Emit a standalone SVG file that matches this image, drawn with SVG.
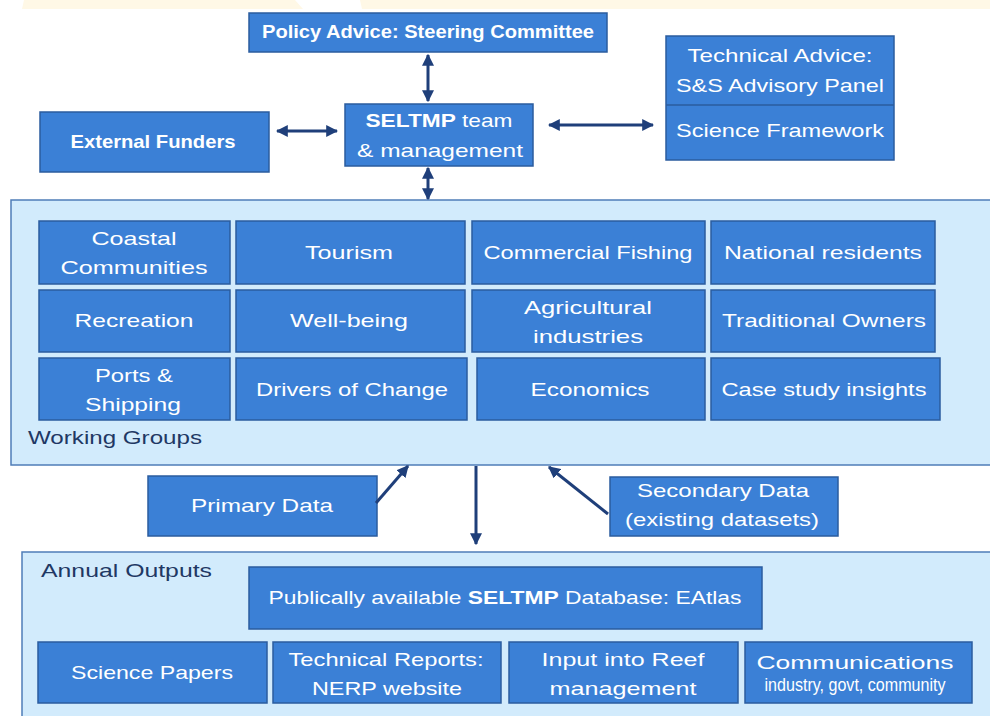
<svg xmlns="http://www.w3.org/2000/svg" width="990" height="716" viewBox="0 0 990 716">
  <style>
    .box { fill: #3b80d6; stroke: #2b5c9e; stroke-width: 1.5; }
    .panel { fill: #d2ebfc; stroke: #4f7db8; stroke-width: 1.5; }
    .t { font-family: "Liberation Sans", Arial, sans-serif; fill: #ffffff; text-anchor: middle; font-size: 19px; }
    .b { font-weight: bold; }
    .lbl { font-family: "Liberation Sans", Arial, sans-serif; fill: #1f3864; font-size: 19px; }
    .arr { stroke: #1f3f7a; stroke-width: 3; fill: none; }
    .band { fill: #fff8e6; }
  </style>
  <defs>
    <marker id="head" viewBox="0 0 10 10" refX="9" refY="5" markerWidth="4" markerHeight="4" orient="auto-start-reverse" markerUnits="strokeWidth">
      <path d="M0,0 L10,5 L0,10 z" fill="#1f3f7a"/>
    </marker>
  </defs>

  <rect width="990" height="716" fill="#ffffff"/>

  <!-- pale header band -->
  <path class="band" d="M24,0 L295,0 L303,9 L22,9 z"/>
  <path class="band" d="M360,0 L990,0 L990,9 L362,9 z"/>

  <!-- panels -->
  <g id="working-groups">
    <rect class="panel" x="11" y="200" width="990" height="265"/>
    <text class="lbl" x="28" y="444" textLength="174" lengthAdjust="spacingAndGlyphs">Working Groups</text>
  </g>
  <g id="annual-outputs">
    <rect class="panel" x="22" y="552" width="990" height="180"/>
    <text class="lbl" x="41" y="577" textLength="171" lengthAdjust="spacingAndGlyphs">Annual Outputs</text>
  </g>

  <!-- governance -->
  <g id="policy">
    <rect class="box" x="249" y="13" width="358" height="39"/>
    <text class="t b" x="428" y="38" font-size="17" textLength="332" lengthAdjust="spacingAndGlyphs">Policy Advice: Steering Committee</text>
  </g>
  <g id="technical">
    <rect class="box" x="666" y="36" width="228" height="124"/>
    <line x1="666" y1="105" x2="894" y2="105" stroke="#2b5c9e" stroke-width="1.5"/>
    <text class="t" x="780" y="62" textLength="185" lengthAdjust="spacingAndGlyphs">Technical Advice:</text>
    <text class="t" x="780" y="92" textLength="208" lengthAdjust="spacingAndGlyphs">S&amp;S Advisory Panel</text>
    <text class="t" x="780" y="137" textLength="208" lengthAdjust="spacingAndGlyphs">Science Framework</text>
  </g>
  <g id="funders">
    <rect class="box" x="40" y="112" width="229" height="60"/>
    <text class="t b" x="153" y="148" font-size="17" textLength="165" lengthAdjust="spacingAndGlyphs">External Funders</text>
  </g>
  <g id="team">
    <rect class="box" x="345" y="104" width="188" height="62"/>
    <text class="t" x="439" y="127" textLength="147" lengthAdjust="spacingAndGlyphs"><tspan class="b">SELTMP</tspan> team</text>
    <text class="t" x="440" y="157" textLength="166" lengthAdjust="spacingAndGlyphs">&amp; management</text>
  </g>

  <!-- working group cells -->
  <g id="wg-coastal">
    <rect class="box" x="39" y="221" width="191" height="63"/>
    <text class="t" x="134" y="245" textLength="85" lengthAdjust="spacingAndGlyphs">Coastal</text>
    <text class="t" x="134" y="274" textLength="147" lengthAdjust="spacingAndGlyphs">Communities</text>
  </g>
  <g id="wg-tourism">
    <rect class="box" x="236" y="221" width="229" height="63"/>
    <text class="t" x="349" y="259" textLength="88" lengthAdjust="spacingAndGlyphs">Tourism</text>
  </g>
  <g id="wg-fishing">
    <rect class="box" x="472" y="221" width="233" height="63"/>
    <text class="t" x="588" y="259" textLength="209" lengthAdjust="spacingAndGlyphs">Commercial Fishing</text>
  </g>
  <g id="wg-residents">
    <rect class="box" x="711" y="221" width="224" height="63"/>
    <text class="t" x="823" y="259" textLength="198" lengthAdjust="spacingAndGlyphs">National residents</text>
  </g>
  <g id="wg-recreation">
    <rect class="box" x="39" y="290" width="191" height="62"/>
    <text class="t" x="134" y="327" textLength="119" lengthAdjust="spacingAndGlyphs">Recreation</text>
  </g>
  <g id="wg-wellbeing">
    <rect class="box" x="236" y="290" width="229" height="62"/>
    <text class="t" x="349" y="327" textLength="118" lengthAdjust="spacingAndGlyphs">Well-being</text>
  </g>
  <g id="wg-agriculture">
    <rect class="box" x="472" y="290" width="233" height="62"/>
    <text class="t" x="588" y="314" textLength="128" lengthAdjust="spacingAndGlyphs">Agricultural</text>
    <text class="t" x="588" y="343" textLength="110" lengthAdjust="spacingAndGlyphs">industries</text>
  </g>
  <g id="wg-owners">
    <rect class="box" x="711" y="290" width="224" height="62"/>
    <text class="t" x="824" y="327" textLength="204" lengthAdjust="spacingAndGlyphs">Traditional Owners</text>
  </g>
  <g id="wg-ports">
    <rect class="box" x="39" y="358" width="191" height="62"/>
    <text class="t" x="134" y="382" textLength="78" lengthAdjust="spacingAndGlyphs">Ports &amp;</text>
    <text class="t" x="133" y="411" textLength="96" lengthAdjust="spacingAndGlyphs">Shipping</text>
  </g>
  <g id="wg-drivers">
    <rect class="box" x="236" y="358" width="231" height="62"/>
    <text class="t" x="352" y="396" textLength="192" lengthAdjust="spacingAndGlyphs">Drivers of Change</text>
  </g>
  <g id="wg-economics">
    <rect class="box" x="477" y="358" width="228" height="62"/>
    <text class="t" x="590" y="396" textLength="119" lengthAdjust="spacingAndGlyphs">Economics</text>
  </g>
  <g id="wg-casestudy">
    <rect class="box" x="711" y="358" width="229" height="62"/>
    <text class="t" x="824" y="396" textLength="205" lengthAdjust="spacingAndGlyphs">Case study insights</text>
  </g>

  <!-- data inputs -->
  <g id="primary-data">
    <rect class="box" x="148" y="476" width="229" height="60"/>
    <text class="t" x="262" y="512" textLength="142" lengthAdjust="spacingAndGlyphs">Primary Data</text>
  </g>
  <g id="secondary-data">
    <rect class="box" x="610" y="477" width="228" height="59"/>
    <text class="t" x="723" y="497" textLength="172" lengthAdjust="spacingAndGlyphs">Secondary Data</text>
    <text class="t" x="722" y="526" textLength="194" lengthAdjust="spacingAndGlyphs">(existing datasets)</text>
  </g>

  <!-- outputs -->
  <g id="database">
    <rect class="box" x="249" y="567" width="513" height="62"/>
    <text class="t" x="505" y="604" textLength="473" lengthAdjust="spacingAndGlyphs">Publically available <tspan class="b">SELTMP</tspan> Database: EAtlas</text>
  </g>
  <g id="papers">
    <rect class="box" x="38" y="642" width="229" height="61"/>
    <text class="t" x="152" y="679" textLength="162" lengthAdjust="spacingAndGlyphs">Science Papers</text>
  </g>
  <g id="reports">
    <rect class="box" x="273" y="642" width="228" height="61"/>
    <text class="t" x="386" y="666" textLength="195" lengthAdjust="spacingAndGlyphs">Technical Reports:</text>
    <text class="t" x="387" y="695" textLength="150" lengthAdjust="spacingAndGlyphs">NERP website</text>
  </g>
  <g id="reef-input">
    <rect class="box" x="509" y="642" width="229" height="61"/>
    <text class="t" x="623" y="666" textLength="163" lengthAdjust="spacingAndGlyphs">Input into Reef</text>
    <text class="t" x="623" y="695" textLength="147" lengthAdjust="spacingAndGlyphs">management</text>
  </g>
  <g id="communications">
    <rect class="box" x="745" y="642" width="227" height="61"/>
    <text class="t" x="855" y="669" font-size="20" textLength="197" lengthAdjust="spacingAndGlyphs">Communications</text>
    <text class="t" x="855" y="691" font-size="11" textLength="181" lengthAdjust="spacingAndGlyphs">industry, govt, community</text>
  </g>

  <!-- connectors -->
  <g id="connectors">
    <line class="arr" x1="428" y1="55" x2="428" y2="101" marker-start="url(#head)" marker-end="url(#head)"/>
    <line class="arr" x1="277" y1="131" x2="337" y2="131" marker-start="url(#head)" marker-end="url(#head)"/>
    <line class="arr" x1="549" y1="125" x2="653" y2="125" marker-start="url(#head)" marker-end="url(#head)"/>
    <line class="arr" x1="428" y1="168" x2="428" y2="199" marker-start="url(#head)" marker-end="url(#head)"/>
    <line class="arr" x1="376" y1="503" x2="408" y2="466" marker-end="url(#head)"/>
    <line class="arr" x1="476" y1="466" x2="476" y2="544" marker-end="url(#head)"/>
    <line class="arr" x1="608" y1="514" x2="549" y2="467" marker-end="url(#head)"/>
  </g>
</svg>
